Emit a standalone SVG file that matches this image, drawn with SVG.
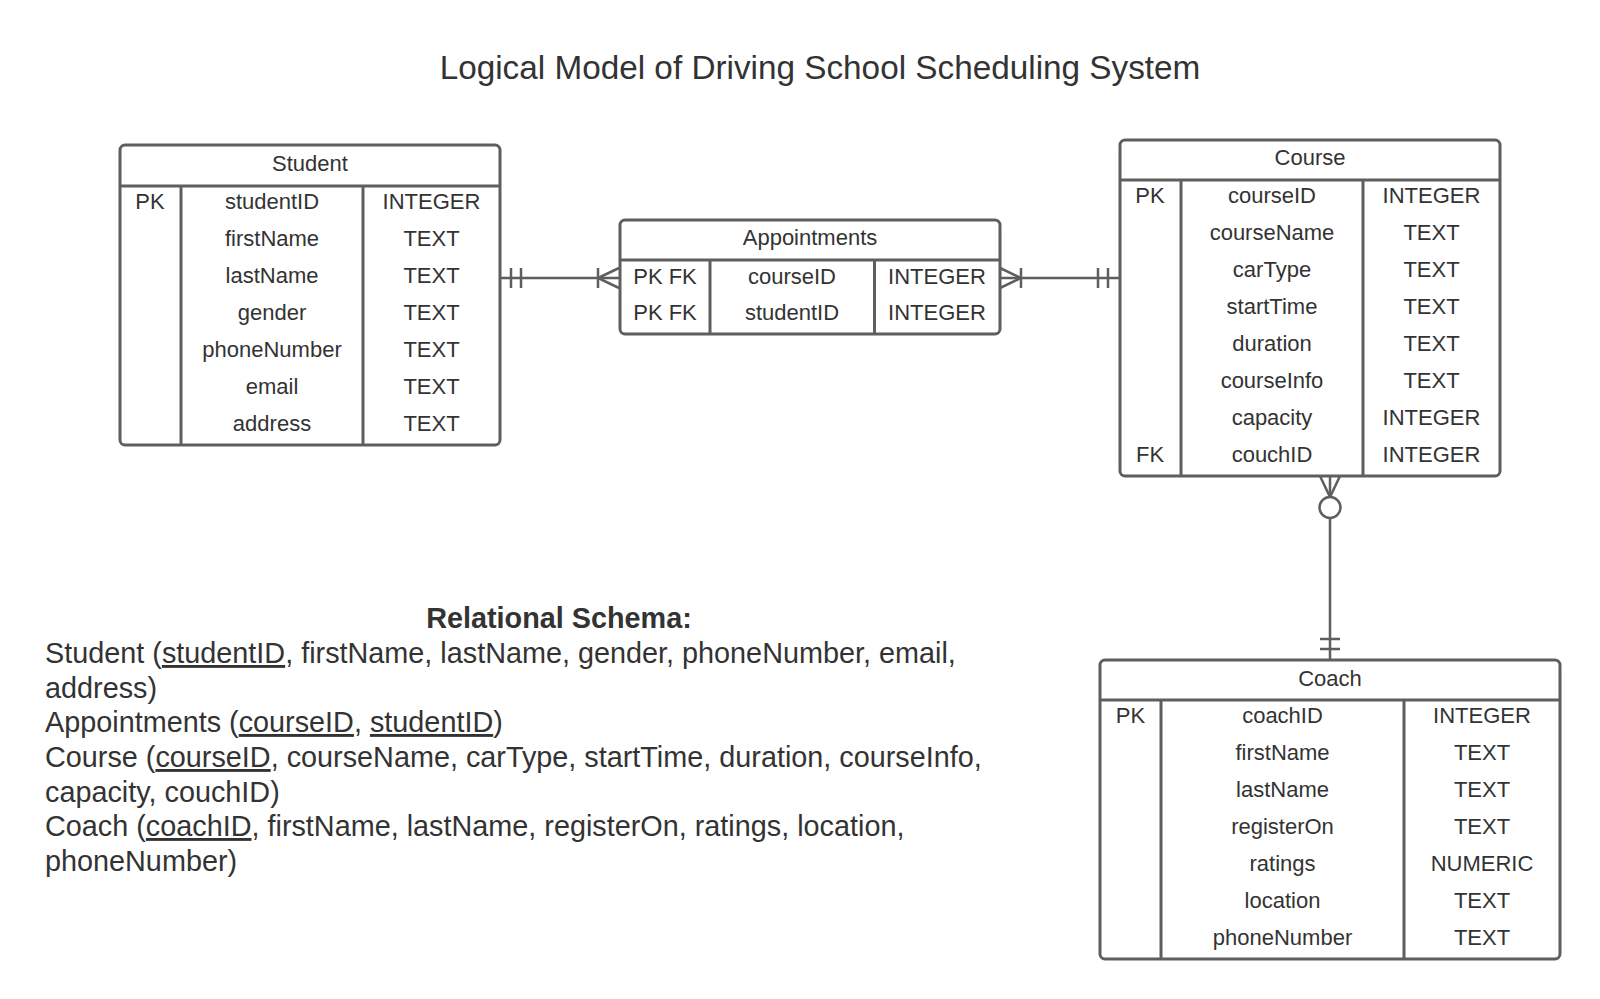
<svg xmlns="http://www.w3.org/2000/svg" width="1600" height="999" viewBox="0 0 1600 999">
<style>
.box{fill:#ffffff;stroke:#5e5e5e;stroke-width:3}
.ln{stroke:#5e5e5e;stroke-width:3;fill:none}
.cn{stroke:#5e5e5e;stroke-width:2.5;fill:none}
.t{font-family:"Liberation Sans",Arial,sans-serif;font-size:22px;fill:#333333;text-anchor:middle}
.title{font-family:"Liberation Sans",Arial,sans-serif;font-size:33.3px;fill:#333333;text-anchor:middle}
.s{font-family:"Liberation Sans",Arial,sans-serif;font-size:28.8px;fill:#333333}
.sb{font-family:"Liberation Sans",Arial,sans-serif;font-size:28.8px;fill:#333333;font-weight:bold;text-anchor:middle}
</style>
<rect x="0" y="0" width="1600" height="999" fill="#ffffff"/>
<text class="title" x="820" y="79">Logical Model of Driving School Scheduling System</text>

<g id="connectors">
  <line class="cn" x1="500" y1="278" x2="619" y2="278"/>
  <line class="cn" x1="511" y1="268" x2="511" y2="288"/>
  <line class="cn" x1="521" y1="268" x2="521" y2="288"/>
  <line class="cn" x1="598" y1="268" x2="598" y2="288"/>
  <polyline class="cn" points="619,268 598,278 619,288"/>

  <line class="cn" x1="1000" y1="278" x2="1119" y2="278"/>
  <polyline class="cn" points="1000,268 1021,278 1000,288"/>
  <line class="cn" x1="1021" y1="268" x2="1021" y2="288"/>
  <line class="cn" x1="1098" y1="268" x2="1098" y2="288"/>
  <line class="cn" x1="1108" y1="268" x2="1108" y2="288"/>

  <line class="cn" x1="1330" y1="476" x2="1330" y2="660"/>
  <polyline class="cn" points="1320,476 1330,497 1340,476"/>
  <circle class="cn" cx="1330" cy="507.5" r="10.5" style="fill:#ffffff"/>
  <line class="cn" x1="1320" y1="639" x2="1340" y2="639"/>
  <line class="cn" x1="1320" y1="649" x2="1340" y2="649"/>
</g>

<g id="student">
  <rect class="box" x="120" y="145" width="380" height="300" rx="5"/>
  <line class="ln" x1="120" y1="186" x2="500" y2="186"/>
  <line class="ln" x1="181" y1="186" x2="181" y2="445"/>
  <line class="ln" x1="363" y1="186" x2="363" y2="445"/>
  <text class="t" x="310" y="171">Student</text>
  <text class="t" x="150" y="209">PK</text>
  <text class="t" x="272" y="209">studentID</text>
  <text class="t" x="431.5" y="209">INTEGER</text>
  <text class="t" x="272" y="246">firstName</text>
  <text class="t" x="431.5" y="246">TEXT</text>
  <text class="t" x="272" y="283">lastName</text>
  <text class="t" x="431.5" y="283">TEXT</text>
  <text class="t" x="272" y="320">gender</text>
  <text class="t" x="431.5" y="320">TEXT</text>
  <text class="t" x="272" y="357">phoneNumber</text>
  <text class="t" x="431.5" y="357">TEXT</text>
  <text class="t" x="272" y="394">email</text>
  <text class="t" x="431.5" y="394">TEXT</text>
  <text class="t" x="272" y="431">address</text>
  <text class="t" x="431.5" y="431">TEXT</text>
</g>

<g id="appointments">
  <rect class="box" x="620" y="220" width="380" height="114" rx="5"/>
  <line class="ln" x1="620" y1="260" x2="1000" y2="260"/>
  <line class="ln" x1="710" y1="260" x2="710" y2="334"/>
  <line class="ln" x1="874.5" y1="260" x2="874.5" y2="334"/>
  <text class="t" x="810" y="245">Appointments</text>
  <text class="t" x="665" y="284">PK FK</text>
  <text class="t" x="792" y="284">courseID</text>
  <text class="t" x="937" y="284">INTEGER</text>
  <text class="t" x="665" y="320">PK FK</text>
  <text class="t" x="792" y="320">studentID</text>
  <text class="t" x="937" y="320">INTEGER</text>
</g>

<g id="course">
  <rect class="box" x="1120" y="140" width="380" height="336" rx="5"/>
  <line class="ln" x1="1120" y1="180" x2="1500" y2="180"/>
  <line class="ln" x1="1181" y1="180" x2="1181" y2="476"/>
  <line class="ln" x1="1363" y1="180" x2="1363" y2="476"/>
  <text class="t" x="1310" y="165">Course</text>
  <text class="t" x="1150" y="203">PK</text>
  <text class="t" x="1272" y="203">courseID</text>
  <text class="t" x="1431.5" y="203">INTEGER</text>
  <text class="t" x="1272" y="240">courseName</text>
  <text class="t" x="1431.5" y="240">TEXT</text>
  <text class="t" x="1272" y="277">carType</text>
  <text class="t" x="1431.5" y="277">TEXT</text>
  <text class="t" x="1272" y="314">startTime</text>
  <text class="t" x="1431.5" y="314">TEXT</text>
  <text class="t" x="1272" y="351">duration</text>
  <text class="t" x="1431.5" y="351">TEXT</text>
  <text class="t" x="1272" y="388">courseInfo</text>
  <text class="t" x="1431.5" y="388">TEXT</text>
  <text class="t" x="1272" y="425">capacity</text>
  <text class="t" x="1431.5" y="425">INTEGER</text>
  <text class="t" x="1150" y="462">FK</text>
  <text class="t" x="1272" y="462">couchID</text>
  <text class="t" x="1431.5" y="462">INTEGER</text>
</g>

<g id="coach">
  <rect class="box" x="1100" y="660" width="460" height="299" rx="5"/>
  <line class="ln" x1="1100" y1="700" x2="1560" y2="700"/>
  <line class="ln" x1="1161" y1="700" x2="1161" y2="959"/>
  <line class="ln" x1="1404" y1="700" x2="1404" y2="959"/>
  <text class="t" x="1330" y="685.5">Coach</text>
  <text class="t" x="1130.5" y="723">PK</text>
  <text class="t" x="1282.5" y="723">coachID</text>
  <text class="t" x="1482" y="723">INTEGER</text>
  <text class="t" x="1282.5" y="760">firstName</text>
  <text class="t" x="1482" y="760">TEXT</text>
  <text class="t" x="1282.5" y="797">lastName</text>
  <text class="t" x="1482" y="797">TEXT</text>
  <text class="t" x="1282.5" y="834">registerOn</text>
  <text class="t" x="1482" y="834">TEXT</text>
  <text class="t" x="1282.5" y="871">ratings</text>
  <text class="t" x="1482" y="871">NUMERIC</text>
  <text class="t" x="1282.5" y="908">location</text>
  <text class="t" x="1482" y="908">TEXT</text>
  <text class="t" x="1282.5" y="945">phoneNumber</text>
  <text class="t" x="1482" y="945">TEXT</text>
</g>

<g id="schema">
  <text class="sb" x="559" y="628">Relational Schema:</text>
  <text class="s" x="45" y="663">Student (<tspan text-decoration="underline">studentID</tspan>, firstName, lastName, gender, phoneNumber, email,</text>
  <text class="s" x="45" y="697.5">address)</text>
  <text class="s" x="45" y="732">Appointments (<tspan text-decoration="underline">courseID</tspan>, <tspan text-decoration="underline">studentID</tspan>)</text>
  <text class="s" x="45" y="767">Course (<tspan text-decoration="underline">courseID</tspan>, courseName, carType, startTime, duration, courseInfo,</text>
  <text class="s" x="45" y="801.5">capacity, couchID)</text>
  <text class="s" x="45" y="836">Coach (<tspan text-decoration="underline">coachID</tspan>, firstName, lastName, registerOn, ratings, location,</text>
  <text class="s" x="45" y="871">phoneNumber)</text>
</g>
</svg>
